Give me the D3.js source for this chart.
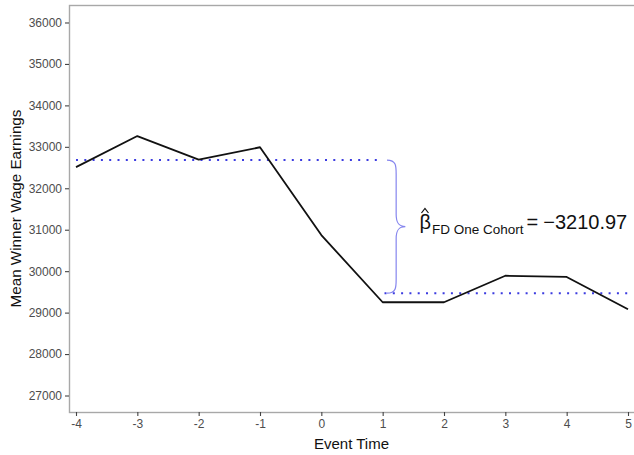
<!DOCTYPE html>
<html><head><meta charset="utf-8">
<script src="https://cdn.jsdelivr.net/npm/d3@7"></script>
<style>body{margin:0;background:#fff}svg{display:block;font-family:"Liberation Sans",Arial,sans-serif}</style>
</head><body>
<svg id="c" width="634" height="455"></svg>
<script>
const eventTimes = [-4,-3,-2,-1,0,1,2,3,4,5];
const meanEarnings = [32510,33260,32690,32990,30870,29250,29250,29890,29860,29080];
const yTicks = [27000,28000,29000,30000,31000,32000,33000,34000,35000,36000];
const preMean = 32681, postMean = 29470;
const preSpan = [-4, 1], postSpan = [1, 5];
const betaValue = "3210.97";

const svg = d3.select("#c");
const panel = {l:69, t:5, b:412};
const x = d3.scaleLinear().domain([-4, 5]).range([76, 628]);
const y = d3.scaleLinear().domain([26602, 36422]).range([panel.b, panel.t]);

// panel border
svg.append("rect").attr("x", panel.l+0.5).attr("y", panel.t+0.5).attr("width", 700).attr("height", panel.b-panel.t)
  .attr("fill","none").attr("stroke","#a8a8a8").attr("stroke-width",1.4);

// axes
const ya = svg.append("g").attr("transform",`translate(${panel.l},0)`)
  .call(d3.axisLeft(y).tickValues(yTicks).tickSize(4).tickPadding(3).tickFormat(d3.format("d")));
const xa = svg.append("g").attr("transform",`translate(0,${panel.b})`)
  .call(d3.axisBottom(x).tickValues(eventTimes).tickSize(4).tickPadding(3).tickFormat(d=>d));
[ya,xa].forEach(g=>{
  g.select(".domain").remove();
  g.selectAll(".tick line").attr("stroke","#444").attr("stroke-width",1.1);
  g.selectAll(".tick text").attr("fill","#4d4d4d").style("font-size","12px");
});

// dotted means
const dot = (x0,x1,v)=> svg.append("line").attr("x1",x(x0)).attr("x2",x(x1)).attr("y1",y(v)).attr("y2",y(v))
  .attr("stroke","#3b3be0").attr("stroke-width",2).attr("stroke-dasharray","2,6.3");
dot(preSpan[0], preSpan[1]-0.05, preMean);
dot(postSpan[0]+0.03, postSpan[1]+0.05, postMean);

// line
svg.append("path").datum(eventTimes.map((t,i)=>[t,meanEarnings[i]]))
  .attr("d", d3.line().x(d=>x(d[0])).y(d=>y(d[1])))
  .attr("fill","none").attr("stroke","#111").attr("stroke-width",1.8).attr("stroke-linejoin","round");

// brace
const bx0 = x(1.07), bx1 = x(1.22), bx2 = x(1.37);
const yt = y(preMean), yb = y(postMean), ym = (yt+yb)/2;
const bracePath = `M${bx0},${yt} C${bx1},${yt} ${bx1},${yt+6} ${bx1},${yt+14} L${bx1},${ym-12} C${bx1},${ym-3} ${bx1+3},${ym} ${bx2},${ym}
 C${bx1+3},${ym} ${bx1},${ym+3} ${bx1},${ym+12} L${bx1},${yb-14} C${bx1},${yb-6} ${bx1},${yb} ${bx0},${yb}`;
svg.append("path").attr("d",bracePath).attr("fill","none").attr("stroke","#8585ee").attr("stroke-width",1.2);

// label
const lx = x(1.6), ly = 229;
const t = svg.append("text").attr("x",lx).attr("y",ly).attr("fill","#111").style("font-size","20px");
t.append("tspan").text("β");
t.append("tspan").attr("dy",5).attr("dx",1).style("font-size","13.5px").text("FD One Cohort");
t.append("tspan").attr("dy",-5).attr("dx",3).style("font-size","20px").text("=");
t.append("tspan").attr("dx",5).style("font-size","20px").text("\u2212" + betaValue);
// hat over beta
svg.append("path").attr("d",`M${lx+2},${ly-16} L${lx+5.5},${ly-20.5} L${lx+9},${ly-16}`)
  .attr("fill","none").attr("stroke","#111").attr("stroke-width",1.2);

// titles
svg.append("text").attr("x",(panel.l+634)/2).attr("y",449).attr("text-anchor","middle").style("font-size","15px").attr("fill","#111").text("Event Time");
svg.append("text").attr("transform",`translate(21,${(panel.t+panel.b)/2}) rotate(-90)`).attr("text-anchor","middle").style("font-size","15.2px").attr("fill","#111").text("Mean Winner Wage Earnings");
</script>
</body></html>
